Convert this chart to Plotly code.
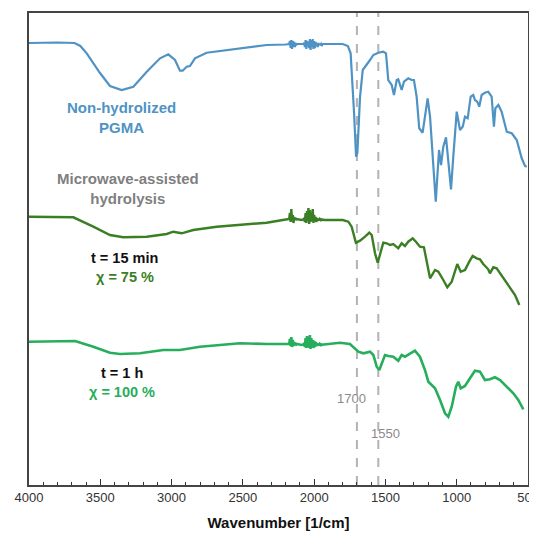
import plotly.graph_objects as go

# ---------------- data (wavenumber in 1/cm, offset transmittance in a.u.) ----------------
NOISE1_WN = list(range(2175, 2115, -5))   # 12 positions
NOISE2_WN = list(range(2070, 1935, -5))   # 27 positions

# Non-hydrolized PGMA
pgma_head_wn = [4000, 3800, 3680, 3640, 3595, 3502, 3432, 3350, 3268, 3174, 3081, 3023, 2976,
                2941, 2922, 2894, 2871, 2836, 2754, 2569, 2333, 2200, 2180]
pgma_head_y = [442, 442.5, 442, 439, 431.7, 412, 399, 395, 398.3, 413.3, 426.7, 430.7, 425,
               414.3, 414.3, 418.3, 419, 426.7, 432.3, 435.7, 440, 440.5, 440.5]
pgma_noise1_y = [441, 444, 437, 445, 436, 444, 438, 443, 438, 442, 440, 441]
pgma_mid_wn = [2110, 2090, 2075]
pgma_mid_y = [441, 440.5, 441]
pgma_noise2_y = [442, 438, 445, 436, 444, 439, 443, 437, 446, 435, 445, 438, 446, 436, 444,
                 437, 443, 439, 442, 438, 442, 440, 441.5, 439.5, 441, 440, 441]
pgma_tail_wn = [1930, 1900, 1800, 1763, 1744, 1720, 1706, 1697, 1678, 1659, 1636, 1608, 1585,
                1550, 1515, 1496, 1480, 1456, 1440, 1421, 1410, 1386, 1370, 1340, 1316, 1300,
                1281, 1263, 1239, 1223, 1204, 1187, 1164, 1147, 1136, 1124, 1110, 1094, 1075,
                1059, 1040, 1024, 1000, 977, 958, 942, 923, 902, 884, 872, 856, 842, 825, 802,
                779, 755, 739, 729, 708, 685, 649, 614, 579, 544, 521, 509]
pgma_tail_y = [441, 441, 441, 439, 431.7, 372, 328.3, 332, 388.3, 415, 419, 425, 430,
               432.3, 433.3, 431.7, 405, 400, 390, 405, 405.7, 395, 403.3, 406.7, 405, 405,
               388.3, 356.7, 352.3, 368.3, 386.7, 368.3, 321.7, 283.3, 308.3, 335, 320, 338.3, 347.7,
               321.7, 295.7, 328.3, 373.3, 355, 358.3, 368.3, 366.7, 388.3, 390, 385, 383.3, 378.3, 390, 392.3,
               393.3, 388.3, 358.3, 376.7, 380, 373.3, 353.3, 351.7, 345, 326.7, 319, 318.3]

# Microwave-assisted hydrolysis, t = 15 min
m15_head_wn = [4000, 3689, 3549, 3432, 3339, 3174, 3034, 2988, 2929, 2848, 2683, 2333, 2220]
m15_head_y = [268.3, 267.7, 258.3, 250, 247.7, 248.3, 251, 253.3, 251.7, 255, 258.3, 262.3, 265]
m15_noise1_y = [266, 272, 263, 276, 264, 270, 262, 268, 265, 267, 265, 266]
m15_mid_wn = [2110, 2090, 2075]
m15_mid_y = [265.5, 265, 265.5]
m15_noise2_y = [267, 263, 272, 262, 274, 264, 277, 261, 275, 263, 271, 264, 276, 262, 270,
                264, 268, 263, 267, 264, 266.5, 264.5, 266, 265, 265.5, 265, 265.5]
m15_tail_wn = [1930, 1900, 1800, 1760, 1737, 1707, 1678, 1643, 1613, 1596, 1573, 1554, 1538,
               1515, 1491, 1468, 1445, 1426, 1410, 1386, 1363, 1340, 1309, 1286, 1258, 1230,
               1206, 1187, 1152, 1129, 1094, 1066, 1035, 996, 972, 942, 912, 888, 860, 837,
               814, 779, 767, 743, 720, 696, 661, 626, 591, 561]
m15_tail_y = [265, 265, 265, 263.3, 258.3, 242.3, 244.3, 248.3, 252.3, 250, 231.7, 222.3, 230,
              242.3, 241.7, 240, 241, 238.3, 236.7, 241.7, 239, 243.3, 246.7, 243.3, 238.3, 237.7,
              220, 206.7, 215, 213.3, 205, 197.7, 203.3, 221, 213.3, 215, 223.3, 229, 226.7, 225.7,
              221, 215.7, 211.7, 217.7, 216.7, 211.7, 205, 198.3, 190, 180]

# Microwave-assisted hydrolysis, t = 1 h
m60_head_wn = [4000, 3677, 3549, 3432, 3362, 3221, 3058, 2941, 2801, 2520, 2333, 2220]
m60_head_y = [143.3, 144, 138.3, 132.3, 131, 131.7, 135, 135, 138.3, 141.7, 141, 140.5]
m60_noise1_y = [141, 146, 139, 148, 138, 145, 139, 143, 140, 142, 140.5, 141]
m60_mid_wn = [2110, 2090, 2075]
m60_mid_y = [140.5, 140, 140.5]
m60_noise2_y = [142, 138, 147, 137, 149, 138, 146, 137, 150, 136, 147, 138, 145, 137, 144,
                138, 143, 139, 142, 139, 141.5, 139.5, 141, 140, 140.5, 140, 140.5]
m60_tail_wn = [1930, 1900, 1819, 1749, 1713, 1690, 1655, 1608, 1585, 1561, 1543, 1526, 1503,
               1480, 1445, 1410, 1386, 1363, 1328, 1293, 1258, 1223, 1199, 1152, 1117, 1082,
               1059, 1035, 1005, 989, 972, 942, 907, 872, 837, 802, 767, 732, 696, 649, 603,
               568, 533]
m60_tail_y = [140.5, 141, 142.3, 141, 136.7, 133.3, 131.7, 133.3, 130, 118.3, 115, 121.7, 130,
              129, 128.3, 124.3, 130, 128.3, 131.7, 134.3, 128.3, 115, 103.3, 96.7, 85, 71.7,
              68.3, 78.3, 98.3, 103.3, 96.7, 99, 106.7, 114.3, 113.3, 105, 105.7, 107.7, 105, 98.3, 91.7,
              85, 75.7]

MARKER_WN = [1700, 1550]
X_TICKS = [4000, 3500, 3000, 2500, 2000, 1500, 1000, 500]


def assemble(head_wn, head_y, n1_y, mid_wn, mid_y, n2_y, tail_wn, tail_y):
    wn = head_wn + NOISE1_WN + mid_wn + NOISE2_WN + tail_wn
    y = head_y + n1_y + mid_y + n2_y + tail_y
    assert len(wn) == len(y), (len(wn), len(y))
    return wn, y


BLUE = "#4f93c4"
DKGREEN = "#3b7f24"
LTGREEN = "#27ae5c"
GRAY = "#8a8a8a"
FONT = "Arial, Liberation Sans, sans-serif"

series = [
    ("Non-hydrolized PGMA", BLUE, 2.2,
     assemble(pgma_head_wn, pgma_head_y, pgma_noise1_y, pgma_mid_wn, pgma_mid_y,
              pgma_noise2_y, pgma_tail_wn, pgma_tail_y)),
    ("t = 15 min", DKGREEN, 2.4,
     assemble(m15_head_wn, m15_head_y, m15_noise1_y, m15_mid_wn, m15_mid_y,
              m15_noise2_y, m15_tail_wn, m15_tail_y)),
    ("t = 1 h", LTGREEN, 2.6,
     assemble(m60_head_wn, m60_head_y, m60_noise1_y, m60_mid_wn, m60_mid_y,
              m60_noise2_y, m60_tail_wn, m60_tail_y)),
]

fig = go.Figure()
for name, color, width, (wn, y) in series:
    fig.add_trace(go.Scatter(x=wn, y=y, mode="lines", name=name,
                             line=dict(color=color, width=width),
                             showlegend=False, hoverinfo="skip"))

for wn in MARKER_WN:
    fig.add_shape(type="line", xref="x", yref="paper", x0=wn, x1=wn, y0=0, y1=1,
                  line=dict(color="#b3b3b3", width=2, dash="dash"), layer="below")

annots = [
    ("<b>Non-hydrolized<br>PGMA</b>", 3348, 367.5, BLUE, 15),
    ("<b>Microwave-assisted<br>hydrolysis</b>", 3306, 297, "#7f7f7f", 15),
    ("<b>t = 15 min</b>", 3327, 227, "#111111", 14.5),
    ("<b>χ = 75 %</b>", 3327, 208, DKGREEN, 14.5),
    ("<b>t = 1 h</b>", 3348, 112, "#111111", 14.5),
    ("<b>χ = 100 %</b>", 3348, 93, LTGREEN, 14.5),
    ("1700", 1740, 87, GRAY, 13),
    ("1550", 1503, 52, GRAY, 13),
]
for text, x, y, color, size in annots:
    fig.add_annotation(text=text, x=x, y=y, xref="x", yref="y", showarrow=False,
                       font=dict(family=FONT, size=size, color=color),
                       align="center", xanchor="center", yanchor="middle",
                       bgcolor="rgba(255,255,255,0)")

# page body has an 8px default margin, so the figure is sized/offset to compensate
fig.update_layout(
    width=537, height=529,
    margin=dict(l=21, r=17, t=5, b=52, autoexpand=False),
    paper_bgcolor="white", plot_bgcolor="white",
    font=dict(family=FONT, color="#222222"),
)
fig.update_xaxes(
    automargin=False,
    range=[4000, 500], tickvals=X_TICKS, ticks="inside", ticklen=6, tickwidth=1.2,
    tickcolor="#333333", showgrid=False, zeroline=False,
    showline=True, linecolor="#444444", linewidth=1.5, mirror=True,
    tickfont=dict(size=13, color="#333333", family=FONT),
    ticklabeloverflow="allow",
    minor=dict(dtick=100, ticks="inside", ticklen=3, tickcolor="#333333", tickwidth=1),
    title=dict(text="<b>Wavenumber [1/cm]</b>", font=dict(size=15, color="#111111", family=FONT),
               standoff=13),
)
fig.update_yaxes(
    automargin=False,
    range=[0, 472], showticklabels=False, ticks="", showgrid=False, zeroline=False,
    showline=True, linecolor="#444444", linewidth=1.5, mirror=True,
)

fig.write_html("out.html")
